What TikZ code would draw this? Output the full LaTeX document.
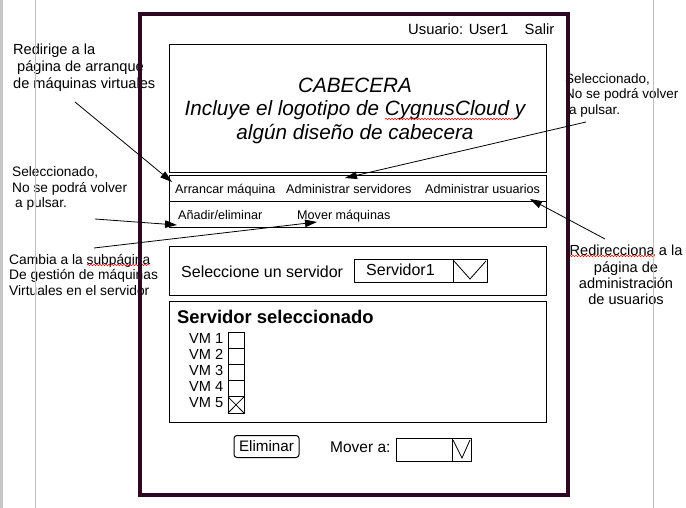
\documentclass[tikz,border=0pt]{standalone}
\usepackage{fontspec}
\setmainfont{Liberation Sans}
\usepackage{tikz}
\usetikzlibrary{arrows.meta,decorations.pathmorphing}
\definecolor{marco}{RGB}{46,8,34}
\newcommand{\fuente}[2]{\fontsize{#1}{#2}\selectfont}

\begin{document}
\begin{tikzpicture}[x=1pt, y=-1pt,
        caja/.style={draw, line width=1pt},
        txt/.style={inner sep=0pt, anchor=base west},
        nota/.style={inner sep=0pt, anchor=north west, align=left},
        flecha/.style={line width=0.8pt, -{Triangle[length=12pt, width=7.5pt]}},
        ondas/.style={draw=red, line width=0.5pt, decorate, decoration={snake, amplitude=0.8pt, segment length=3pt}}]
            \useasboundingbox (0,0) rectangle (686,508);
            \node[nota, font=\fuente{14.6}{17}] (nota1) at (13,43.3) {Redirige a la\\\hspace*{4pt}página de arranque\\de máquinas virtuales};
            \node[nota, font=\fuente{13.7}{15.3}] (nota2) at (12,166.7) {Seleccionado,\\No se podrá volver\\\hspace*{3pt}a pulsar.};
            \node[nota, font=\fuente{13.8}{15.5}] (nota3) at (9,254) {Cambia a la subpágina\\De gestión de máquinas\\Virtuales en el servidor};
            \draw[ondas] (87,265) -- (150,265);
            \node[nota, font=\fuente{13.5}{15.5}] (nota4) at (565,73.3) {Seleccionado,\\No se podrá volver\\\hspace*{4pt}a pulsar.};
            \node[inner sep=0pt, anchor=north, align=center, font=\fuente{14.6}{16.3}] (nota5) at (626,245) {Redirecciona a la\\página de\\administración\\de usuarios};
            \draw[ondas] (569,256) -- (655,256);
            \fill[gray!45] (0,0) rectangle (3,508);
            \draw[gray!50, line width=1pt] (35.5,0) -- (35.5,508);
            \draw[gray!50, line width=1pt] (653,0) -- (653,508);
            \draw[marco, line width=4pt] (140,14) rectangle (568,495);
            \node[txt, font=\fuente{14.8}{17}] (usuario) at (408,34.5) {Usuario: User1};
            \node[txt, font=\fuente{14.8}{17}] (salir) at (524.5,34.5) {Salir};
            \draw[caja] (169,45) rectangle (546,173);
            \node[inner sep=0pt, anchor=north, align=center, font=\fuente{20.7}{23.2}\itshape] (cabecera) at (355,78) {CABECERA\\Incluye el logotipo de CygnusCloud y\\algún diseño de cabecera};
            \draw[ondas] (385,119) -- (515,119);
            \draw[caja] (169,176) rectangle (546,228);
            \draw[caja] (169,202) -- (546,202);
            \node[txt, font=\fuente{12.6}{14}] (arrancar) at (175,193.5) {Arrancar máquina};
            \node[txt, font=\fuente{12.6}{14}] (admserv) at (286,193.5) {Administrar servidores};
            \node[txt, font=\fuente{12.6}{14}] (admusu) at (425,193.5) {Administrar usuarios};
            \node[txt, font=\fuente{12.6}{14}] (anadir) at (178,219.5) {Añadir/eliminar};
            \node[txt, font=\fuente{12.6}{14}] (mover) at (297,219.5) {Mover máquinas};
            \draw[caja] (169,246) rectangle (546,295);
            \node[txt, font=\fuente{16}{18}] (selec) at (181,277.5) {Seleccione un servidor};
            \draw[caja] (354,259) rectangle (453,282);
            \draw[caja] (453,259) rectangle (487,282);
            \draw[line width=0.8pt] (454,261) -- (470,279) -- (486,261);
            \node[txt, font=\fuente{16}{18}] (servidor) at (366,275.7) {Servidor1};
            \draw[caja] (169,301) rectangle (546,422);
            \node[txt, font=\fuente{18.4}{20}\bfseries] (titulo) at (177,323.3) {Servidor seleccionado};
            \foreach \i in {1,...,5} {
                \node[inner sep=0pt, anchor=base east, font=\fuente{14.6}{16}] (vm\i) at (223.5,327.3+16*\i) {VM \i};
                \draw[caja] (228,315.8+16.2*\i) rectangle (244,332+16.2*\i);
            }
            \draw[line width=0.8pt] (228,396.8) -- (244,413) (228,413) -- (244,396.8);
            \node[draw, rounded corners=3pt, line width=1pt, minimum width=65pt, minimum height=22pt, inner sep=0pt, font=\fuente{15.2}{17}] (eliminar) at (266.5,446.5) {Eliminar};
            \node[txt, font=\fuente{15.5}{17}] (movera) at (330,452.5) {Mover a:};
            \draw[caja] (396,438) rectangle (452,461);
            \draw[caja] (452,438) rectangle (471,461);
            \draw[line width=0.8pt] (453,440) -- (462,458) -- (470,440);
            \coordinate (o1) at (75,102);
            \coordinate (d1) at (172,182);
            \coordinate (o2) at (95,219);
            \coordinate (d2) at (177,225);
            \coordinate (o3) at (94,248);
            \coordinate (d3) at (317,222);
            \coordinate (o4) at (586,122);
            \coordinate (d4) at (345,178);
            \coordinate (o5) at (605,239);
            \coordinate (d5) at (530,199);
            \draw[flecha] (o1) -- (d1);
            \draw[flecha] (o2) -- (d2);
            \draw[flecha] (o3) -- (d3);
            \draw[flecha] (o4) -- (d4);
            \draw[flecha] (o5) -- (d5);
        \end{tikzpicture}
\end{document}
